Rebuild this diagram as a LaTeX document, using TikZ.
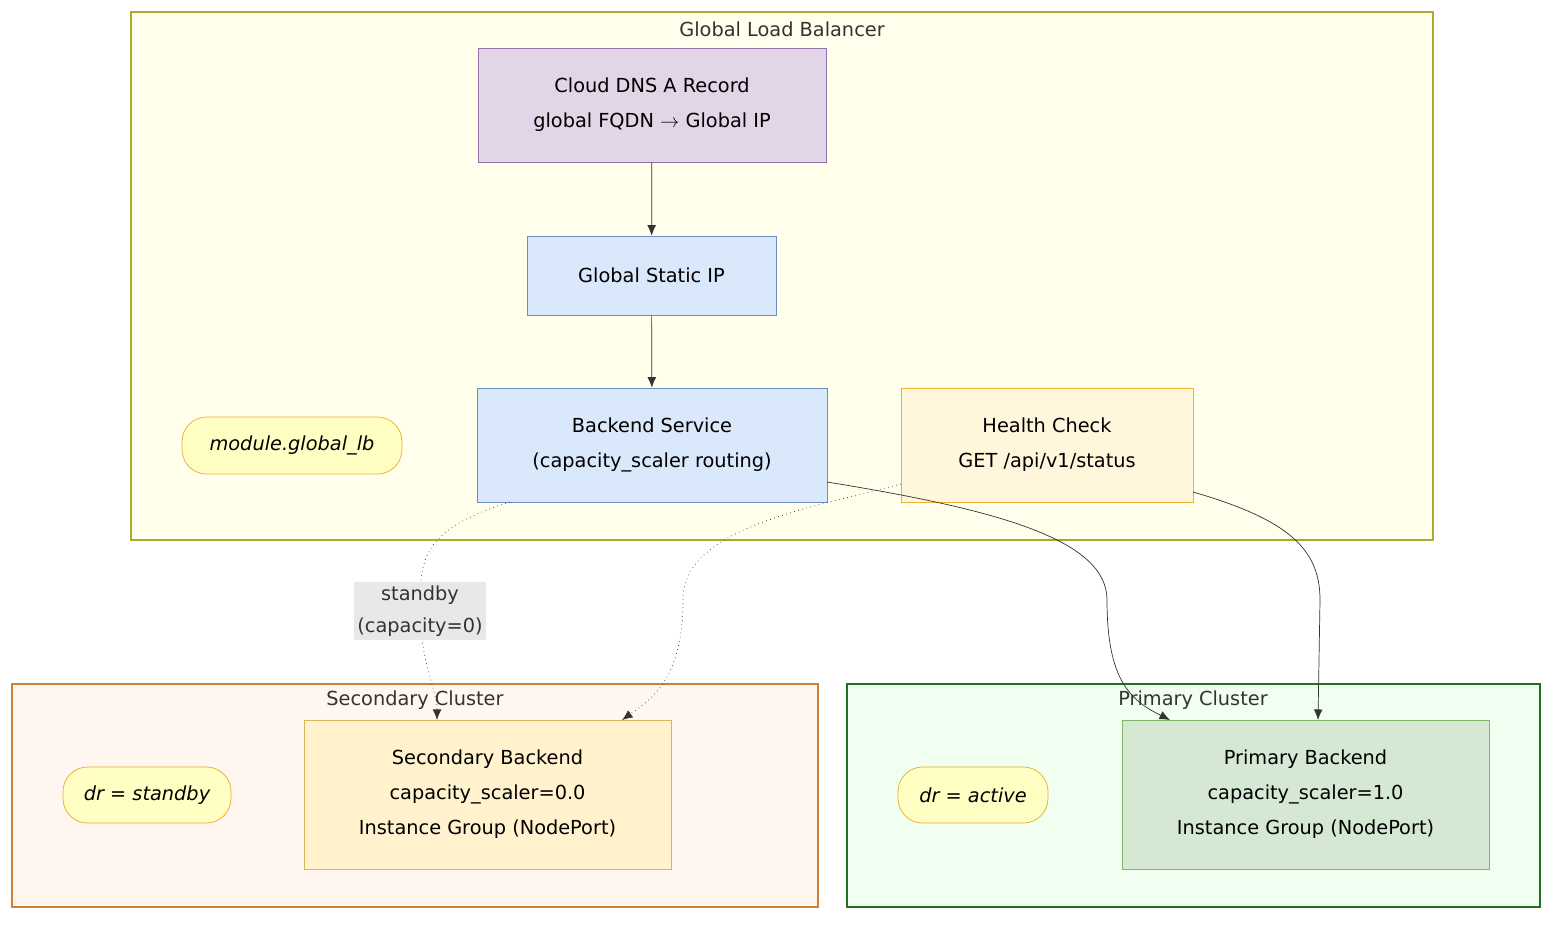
\documentclass[tikz,border=0pt]{standalone}
\usepackage{fontspec}
\setmainfont{DejaVu Sans}
\usetikzlibrary{arrows.meta}
\definecolor{lbfill}{HTML}{FFFFEC}\definecolor{lbline}{HTML}{AAAA33}
\definecolor{dnsfill}{HTML}{E1D5E7}\definecolor{dnsline}{HTML}{9673A6}
\definecolor{bluefill}{HTML}{DAE8FC}\definecolor{blueline}{HTML}{6C8EBF}
\definecolor{hcfill}{HTML}{FFF6DC}\definecolor{hcline}{HTML}{F0B030}
\definecolor{pillfill}{HTML}{FFFFC4}\definecolor{pillline}{HTML}{F0A830}
\definecolor{secfill}{HTML}{FFF6F0}\definecolor{secline}{HTML}{D08030}
\definecolor{sbfill}{HTML}{FFF2CC}\definecolor{sbline}{HTML}{D6B656}
\definecolor{prifill}{HTML}{F0FFF0}\definecolor{priline}{HTML}{207020}
\definecolor{pbfill}{HTML}{D5E8D4}\definecolor{pbline}{HTML}{82B366}
\definecolor{txt}{HTML}{333333}
\tikzset{
  box/.style={draw, align=center, inner sep=0pt, font=\fontsize{11}{20}\selectfont},
  pill/.style={draw=pillline, fill=pillfill, rounded corners=14pt, inner sep=0pt,
    font=\fontsize{11}{14}\selectfont\itshape},
  group/.style={draw, line width=0.8pt},
  title/.style={text=txt, font=\fontsize{11}{14}\selectfont},
  link/.style={draw=txt, -{Latex[length=6pt,width=5pt]}},
}
\begin{document}
\begin{tikzpicture}[x=0.02cm, y=-0.02cm]
\useasboundingbox (0,0) rectangle (1568,930);
% groups
\draw[group, draw=lbline, fill=lbfill] (131,12) rectangle (1433,540);
\node[title] (lbt) at (782,29) {Global Load Balancer};
\draw[group, draw=secline, fill=secfill] (12,684) rectangle (818,907);
\node[title] (sct) at (415,700) {Secondary Cluster};
\draw[group, draw=priline, fill=prifill] (847,684) rectangle (1540,907);
\node[title] (pct) at (1193,700) {Primary Cluster};
% nodes
\node[box, draw=dnsline, fill=dnsfill, minimum width=348*0.02cm, minimum height=114*0.02cm]
  (dns) at (652,105) {Cloud DNS A Record\\global FQDN $\rightarrow$ Global IP};
\node[box, draw=blueline, fill=bluefill, minimum width=249*0.02cm, minimum height=79*0.02cm]
  (ip) at (651.5,275.5) {Global Static IP};
\node[box, draw=blueline, fill=bluefill, minimum width=350*0.02cm, minimum height=114*0.02cm]
  (bs) at (652,445) {Backend Service\\(capacity\_scaler routing)};
\node[box, draw=hcline, fill=hcfill, minimum width=292*0.02cm, minimum height=114*0.02cm]
  (hc) at (1047,445) {Health Check\\GET /api/v1/status};
\node[pill, minimum width=220*0.02cm, minimum height=57*0.02cm] (mod) at (292,445.5) {module.global\_lb};
\node[box, draw=sbline, fill=sbfill, minimum width=367*0.02cm, minimum height=149*0.02cm]
  (sb) at (487.5,794.5) {Secondary Backend\\capacity\_scaler=0.0\\Instance Group (NodePort)};
\node[pill, minimum width=168*0.02cm, minimum height=56*0.02cm] (drs) at (147,795) {dr = standby};
\node[box, draw=pbline, fill=pbfill, minimum width=367*0.02cm, minimum height=149*0.02cm]
  (pb) at (1305.5,794.5) {Primary Backend\\capacity\_scaler=1.0\\Instance Group (NodePort)};
\node[pill, minimum width=150*0.02cm, minimum height=56*0.02cm] (dra) at (973,795) {dr = active};
% connectors
\draw[link] (dns) -- (ip);
\draw[link] (ip) -- (bs);
\coordinate (bsa) at (510,502);
\coordinate (sba) at (437,720);
\draw[link, dotted] (bsa) .. controls (420,530) and (420,560) .. (420,611)
  .. controls (420,660) and (437,690) .. (sba);
\node[fill=black!9, text=txt, align=center, inner sep=2pt, font=\fontsize{11}{18}\selectfont]
  (lab) at (420,611) {standby\\(capacity=0)};
\coordinate (bsb) at (827,482);
\coordinate (pba) at (1170,720);
\draw[link] (bsb) .. controls (1000,510) and (1107,540) .. (1107,600)
  .. controls (1107,680) and (1130,700) .. (pba);
\coordinate (hca) at (901,484);
\coordinate (sbb) at (622,720);
\draw[link, dotted] (hca) .. controls (800,510) and (683,530) .. (683,600)
  .. controls (683,680) and (650,700) .. (sbb);
\coordinate (hcb) at (1193,492);
\coordinate (pbb) at (1318,720);
\draw[link] (hcb) .. controls (1290,520) and (1320,550) .. (1320,600) -- (pbb);
\end{tikzpicture}
\end{document}
